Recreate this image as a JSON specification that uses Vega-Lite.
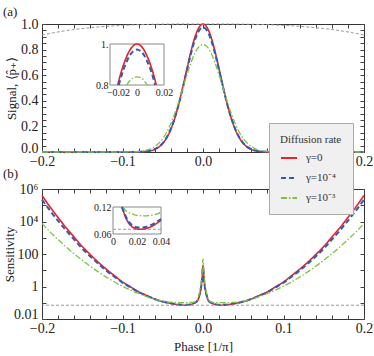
{
  "$schema": "https://vega.github.io/schema/vega-lite/v6.json",
  "padding": {"left": 2, "top": 5, "right": 1, "bottom": 2},
  "background": "white",
  "config": {
    "font": "Liberation Serif",
    "view": {"stroke": "#333", "strokeWidth": 1},
    "axis": {
      "labelFont": "Liberation Serif", "titleFont": "Liberation Serif",
      "labelFontSize": 14, "titleFontSize": 13, "titleFontWeight": "normal",
      "labelColor": "#222", "titleColor": "#222", "tickColor": "#444",
      "domain": false, "grid": false, "tickSize": -4, "labelPadding": 6,
      "labelFlush": false, "labelOverlap": false
    }
  },
  "resolve": {"legend": {"color": "independent", "strokeDash": "independent", "strokeWidth": "independent"}},
  "datasets": {
    "sig": [
      {"p": -0.2, "γ=0": 0, "γ=10⁻⁴": 0, "γ=10⁻³": 0, "ref": 0.914},
      {"p": -0.18, "γ=0": 0, "γ=10⁻⁴": 0, "γ=10⁻³": 0, "ref": 0.938},
      {"p": -0.16, "γ=0": 0, "γ=10⁻⁴": 0, "γ=10⁻³": 0, "ref": 0.957},
      {"p": -0.14, "γ=0": 0, "γ=10⁻⁴": 0, "γ=10⁻³": 0, "ref": 0.971},
      {"p": -0.12, "γ=0": 0, "γ=10⁻⁴": 0, "γ=10⁻³": 0, "ref": 0.982},
      {"p": -0.1, "γ=0": 0, "γ=10⁻⁴": 0, "γ=10⁻³": 0.0002, "ref": 0.989},
      {"p": -0.09, "γ=0": 0, "γ=10⁻⁴": 0, "γ=10⁻³": 0.001, "ref": 0.992},
      {"p": -0.08, "γ=0": 0.001, "γ=10⁻⁴": 0.001, "γ=10⁻³": 0.004, "ref": 0.995},
      {"p": -0.07, "γ=0": 0.005, "γ=10⁻⁴": 0.006, "γ=10⁻³": 0.014, "ref": 0.996},
      {"p": -0.06, "γ=0": 0.02, "γ=10⁻⁴": 0.022, "γ=10⁻³": 0.042, "ref": 0.998},
      {"p": -0.055, "γ=0": 0.038, "γ=10⁻⁴": 0.04, "γ=10⁻³": 0.068, "ref": 0.998},
      {"p": -0.05, "γ=0": 0.067, "γ=10⁻⁴": 0.07, "γ=10⁻³": 0.105, "ref": 0.999},
      {"p": -0.045, "γ=0": 0.112, "γ=10⁻⁴": 0.116, "γ=10⁻³": 0.155, "ref": 0.999},
      {"p": -0.04, "γ=0": 0.177, "γ=10⁻⁴": 0.18, "γ=10⁻³": 0.222, "ref": 0.999},
      {"p": -0.035, "γ=0": 0.266, "γ=10⁻⁴": 0.268, "γ=10⁻³": 0.303, "ref": 1},
      {"p": -0.03, "γ=0": 0.378, "γ=10⁻⁴": 0.376, "γ=10⁻³": 0.397, "ref": 1},
      {"p": -0.025, "γ=0": 0.509, "γ=10⁻⁴": 0.502, "γ=10⁻³": 0.499, "ref": 1},
      {"p": -0.02, "γ=0": 0.649, "γ=10⁻⁴": 0.637, "γ=10⁻³": 0.602, "ref": 1},
      {"p": -0.015, "γ=0": 0.784, "γ=10⁻⁴": 0.767, "γ=10⁻³": 0.696, "ref": 1},
      {"p": -0.01, "γ=0": 0.898, "γ=10⁻⁴": 0.876, "γ=10⁻³": 0.773, "ref": 1},
      {"p": -0.005, "γ=0": 0.973, "γ=10⁻⁴": 0.948, "γ=10⁻³": 0.823, "ref": 1},
      {"p": 0, "γ=0": 1, "γ=10⁻⁴": 0.973, "γ=10⁻³": 0.84, "ref": 1},
      {"p": 0.005, "γ=0": 0.973, "γ=10⁻⁴": 0.948, "γ=10⁻³": 0.823, "ref": 1},
      {"p": 0.01, "γ=0": 0.898, "γ=10⁻⁴": 0.876, "γ=10⁻³": 0.773, "ref": 1},
      {"p": 0.015, "γ=0": 0.784, "γ=10⁻⁴": 0.767, "γ=10⁻³": 0.696, "ref": 1},
      {"p": 0.02, "γ=0": 0.649, "γ=10⁻⁴": 0.637, "γ=10⁻³": 0.602, "ref": 1},
      {"p": 0.025, "γ=0": 0.509, "γ=10⁻⁴": 0.502, "γ=10⁻³": 0.499, "ref": 1},
      {"p": 0.03, "γ=0": 0.378, "γ=10⁻⁴": 0.376, "γ=10⁻³": 0.397, "ref": 1},
      {"p": 0.035, "γ=0": 0.266, "γ=10⁻⁴": 0.268, "γ=10⁻³": 0.303, "ref": 1},
      {"p": 0.04, "γ=0": 0.177, "γ=10⁻⁴": 0.18, "γ=10⁻³": 0.222, "ref": 0.999},
      {"p": 0.045, "γ=0": 0.112, "γ=10⁻⁴": 0.116, "γ=10⁻³": 0.155, "ref": 0.999},
      {"p": 0.05, "γ=0": 0.067, "γ=10⁻⁴": 0.07, "γ=10⁻³": 0.105, "ref": 0.999},
      {"p": 0.055, "γ=0": 0.038, "γ=10⁻⁴": 0.04, "γ=10⁻³": 0.068, "ref": 0.998},
      {"p": 0.06, "γ=0": 0.02, "γ=10⁻⁴": 0.022, "γ=10⁻³": 0.042, "ref": 0.998},
      {"p": 0.07, "γ=0": 0.005, "γ=10⁻⁴": 0.006, "γ=10⁻³": 0.014, "ref": 0.996},
      {"p": 0.08, "γ=0": 0.001, "γ=10⁻⁴": 0.001, "γ=10⁻³": 0.004, "ref": 0.995},
      {"p": 0.09, "γ=0": 0, "γ=10⁻⁴": 0, "γ=10⁻³": 0.001, "ref": 0.992},
      {"p": 0.1, "γ=0": 0, "γ=10⁻⁴": 0, "γ=10⁻³": 0.0002, "ref": 0.989},
      {"p": 0.12, "γ=0": 0, "γ=10⁻⁴": 0, "γ=10⁻³": 0, "ref": 0.982},
      {"p": 0.14, "γ=0": 0, "γ=10⁻⁴": 0, "γ=10⁻³": 0, "ref": 0.971},
      {"p": 0.16, "γ=0": 0, "γ=10⁻⁴": 0, "γ=10⁻³": 0, "ref": 0.957},
      {"p": 0.18, "γ=0": 0, "γ=10⁻⁴": 0, "γ=10⁻³": 0, "ref": 0.938},
      {"p": 0.2, "γ=0": 0, "γ=10⁻⁴": 0, "γ=10⁻³": 0, "ref": 0.914}
    ],
    "sens": [
      {"p": -0.2, "γ=0": 400000, "γ=10⁻⁴": 220000, "γ=10⁻³": 7500},
      {"p": -0.19, "γ=0": 79000, "γ=10⁻⁴": 47000, "γ=10⁻³": 2300},
      {"p": -0.18, "γ=0": 17500, "γ=10⁻⁴": 11000, "γ=10⁻³": 770},
      {"p": -0.17, "γ=0": 4100, "γ=10⁻⁴": 2800, "γ=10⁻³": 272},
      {"p": -0.16, "γ=0": 1080, "γ=10⁻⁴": 760, "γ=10⁻³": 102},
      {"p": -0.15, "γ=0": 290, "γ=10⁻⁴": 215, "γ=10⁻³": 41},
      {"p": -0.14, "γ=0": 91, "γ=10⁻⁴": 71, "γ=10⁻³": 17.5},
      {"p": -0.13, "γ=0": 31, "γ=10⁻⁴": 25, "γ=10⁻³": 7.9},
      {"p": -0.12, "γ=0": 11.5, "γ=10⁻⁴": 9.5, "γ=10⁻³": 3.8},
      {"p": -0.11, "γ=0": 4.6, "γ=10⁻⁴": 4.0, "γ=10⁻³": 1.9},
      {"p": -0.1, "γ=0": 1.9, "γ=10⁻⁴": 1.7, "γ=10⁻³": 1.04},
      {"p": -0.09, "γ=0": 0.95, "γ=10⁻⁴": 0.88, "γ=10⁻³": 0.6},
      {"p": -0.08, "γ=0": 0.47, "γ=10⁻⁴": 0.45, "γ=10⁻³": 0.37},
      {"p": -0.07, "γ=0": 0.28, "γ=10⁻⁴": 0.27, "γ=10⁻³": 0.24},
      {"p": -0.06, "γ=0": 0.17, "γ=10⁻⁴": 0.17, "γ=10⁻³": 0.165},
      {"p": -0.05, "γ=0": 0.116, "γ=10⁻⁴": 0.118, "γ=10⁻³": 0.124},
      {"p": -0.045, "γ=0": 0.102, "γ=10⁻⁴": 0.105, "γ=10⁻³": 0.113},
      {"p": -0.04, "γ=0": 0.0905, "γ=10⁻⁴": 0.0935, "γ=10⁻³": 0.108},
      {"p": -0.036, "γ=0": 0.083, "γ=10⁻⁴": 0.0862, "γ=10⁻³": 0.104},
      {"p": -0.032, "γ=0": 0.0765, "γ=10⁻⁴": 0.0802, "γ=10⁻³": 0.1015},
      {"p": -0.028, "γ=0": 0.0725, "γ=10⁻⁴": 0.076, "γ=10⁻³": 0.1003},
      {"p": -0.024, "γ=0": 0.0705, "γ=10⁻⁴": 0.0742, "γ=10⁻³": 0.1005},
      {"p": -0.02, "γ=0": 0.0712, "γ=10⁻⁴": 0.0748, "γ=10⁻³": 0.1015},
      {"p": -0.016, "γ=0": 0.076, "γ=10⁻⁴": 0.0795, "γ=10⁻³": 0.104},
      {"p": -0.013, "γ=0": 0.085, "γ=10⁻⁴": 0.088, "γ=10⁻³": 0.107},
      {"p": -0.01, "γ=0": 0.1, "γ=10⁻⁴": 0.103, "γ=10⁻³": 0.114},
      {"p": -0.008, "γ=0": 0.115, "γ=10⁻⁴": 0.117, "γ=10⁻³": 0.13},
      {"p": -0.006, "γ=0": 0.16, "γ=10⁻⁴": 0.165, "γ=10⁻³": 0.2},
      {"p": -0.004, "γ=0": 0.36, "γ=10⁻⁴": 0.36, "γ=10⁻³": 0.5},
      {"p": -0.003, "γ=0": 0.6, "γ=10⁻⁴": 0.58, "γ=10⁻³": 1.0},
      {"p": -0.002, "γ=0": 1.3, "γ=10⁻⁴": 1.2, "γ=10⁻³": 2.5},
      {"p": -0.001, "γ=0": 4, "γ=10⁻⁴": 3.5, "γ=10⁻³": 10},
      {"p": 0, "γ=0": 20, "γ=10⁻⁴": 15, "γ=10⁻³": 50},
      {"p": 0.001, "γ=0": 4, "γ=10⁻⁴": 3.5, "γ=10⁻³": 10},
      {"p": 0.002, "γ=0": 1.3, "γ=10⁻⁴": 1.2, "γ=10⁻³": 2.5},
      {"p": 0.003, "γ=0": 0.6, "γ=10⁻⁴": 0.58, "γ=10⁻³": 1.0},
      {"p": 0.004, "γ=0": 0.36, "γ=10⁻⁴": 0.36, "γ=10⁻³": 0.5},
      {"p": 0.006, "γ=0": 0.16, "γ=10⁻⁴": 0.165, "γ=10⁻³": 0.2},
      {"p": 0.008, "γ=0": 0.115, "γ=10⁻⁴": 0.117, "γ=10⁻³": 0.13},
      {"p": 0.01, "γ=0": 0.1, "γ=10⁻⁴": 0.103, "γ=10⁻³": 0.114},
      {"p": 0.013, "γ=0": 0.085, "γ=10⁻⁴": 0.088, "γ=10⁻³": 0.107},
      {"p": 0.016, "γ=0": 0.076, "γ=10⁻⁴": 0.0795, "γ=10⁻³": 0.104},
      {"p": 0.02, "γ=0": 0.0712, "γ=10⁻⁴": 0.0748, "γ=10⁻³": 0.1015},
      {"p": 0.024, "γ=0": 0.0705, "γ=10⁻⁴": 0.0742, "γ=10⁻³": 0.1005},
      {"p": 0.028, "γ=0": 0.0725, "γ=10⁻⁴": 0.076, "γ=10⁻³": 0.1003},
      {"p": 0.032, "γ=0": 0.0765, "γ=10⁻⁴": 0.0802, "γ=10⁻³": 0.1015},
      {"p": 0.036, "γ=0": 0.083, "γ=10⁻⁴": 0.0862, "γ=10⁻³": 0.104},
      {"p": 0.04, "γ=0": 0.0905, "γ=10⁻⁴": 0.0935, "γ=10⁻³": 0.108},
      {"p": 0.045, "γ=0": 0.102, "γ=10⁻⁴": 0.105, "γ=10⁻³": 0.113},
      {"p": 0.05, "γ=0": 0.116, "γ=10⁻⁴": 0.118, "γ=10⁻³": 0.124},
      {"p": 0.06, "γ=0": 0.17, "γ=10⁻⁴": 0.17, "γ=10⁻³": 0.165},
      {"p": 0.07, "γ=0": 0.28, "γ=10⁻⁴": 0.27, "γ=10⁻³": 0.24},
      {"p": 0.08, "γ=0": 0.47, "γ=10⁻⁴": 0.45, "γ=10⁻³": 0.37},
      {"p": 0.09, "γ=0": 0.95, "γ=10⁻⁴": 0.88, "γ=10⁻³": 0.6},
      {"p": 0.1, "γ=0": 1.9, "γ=10⁻⁴": 1.7, "γ=10⁻³": 1.04},
      {"p": 0.11, "γ=0": 4.6, "γ=10⁻⁴": 4.0, "γ=10⁻³": 1.9},
      {"p": 0.12, "γ=0": 11.5, "γ=10⁻⁴": 9.5, "γ=10⁻³": 3.8},
      {"p": 0.13, "γ=0": 31, "γ=10⁻⁴": 25, "γ=10⁻³": 7.9},
      {"p": 0.14, "γ=0": 91, "γ=10⁻⁴": 71, "γ=10⁻³": 17.5},
      {"p": 0.15, "γ=0": 290, "γ=10⁻⁴": 215, "γ=10⁻³": 41},
      {"p": 0.16, "γ=0": 1080, "γ=10⁻⁴": 760, "γ=10⁻³": 102},
      {"p": 0.17, "γ=0": 4100, "γ=10⁻⁴": 2800, "γ=10⁻³": 272},
      {"p": 0.18, "γ=0": 17500, "γ=10⁻⁴": 11000, "γ=10⁻³": 770},
      {"p": 0.19, "γ=0": 79000, "γ=10⁻⁴": 47000, "γ=10⁻³": 2300},
      {"p": 0.2, "γ=0": 400000, "γ=10⁻⁴": 220000, "γ=10⁻³": 7500}
    ],
    "insA": [
      {"p": -0.0143, "s": "γ=0", "v": 0.8}, {"p": -0.0125, "s": "γ=0", "v": 0.845}, {"p": -0.01, "s": "γ=0", "v": 0.898},
      {"p": -0.0075, "s": "γ=0", "v": 0.941}, {"p": -0.005, "s": "γ=0", "v": 0.973}, {"p": -0.0025, "s": "γ=0", "v": 0.993},
      {"p": 0, "s": "γ=0", "v": 1}, {"p": 0.0025, "s": "γ=0", "v": 0.993}, {"p": 0.005, "s": "γ=0", "v": 0.973},
      {"p": 0.0075, "s": "γ=0", "v": 0.941}, {"p": 0.01, "s": "γ=0", "v": 0.898}, {"p": 0.0125, "s": "γ=0", "v": 0.845},
      {"p": 0.0143, "s": "γ=0", "v": 0.8},
      {"p": -0.0135, "s": "γ=10⁻⁴", "v": 0.8}, {"p": -0.0125, "s": "γ=10⁻⁴", "v": 0.823}, {"p": -0.01, "s": "γ=10⁻⁴", "v": 0.876},
      {"p": -0.0075, "s": "γ=10⁻⁴", "v": 0.916}, {"p": -0.005, "s": "γ=10⁻⁴", "v": 0.948}, {"p": -0.0025, "s": "γ=10⁻⁴", "v": 0.966},
      {"p": 0, "s": "γ=10⁻⁴", "v": 0.973}, {"p": 0.0025, "s": "γ=10⁻⁴", "v": 0.966}, {"p": 0.005, "s": "γ=10⁻⁴", "v": 0.948},
      {"p": 0.0075, "s": "γ=10⁻⁴", "v": 0.916}, {"p": 0.01, "s": "γ=10⁻⁴", "v": 0.876}, {"p": 0.0125, "s": "γ=10⁻⁴", "v": 0.823},
      {"p": 0.0135, "s": "γ=10⁻⁴", "v": 0.8},
      {"p": -0.0077, "s": "γ=10⁻³", "v": 0.8}, {"p": -0.005, "s": "γ=10⁻³", "v": 0.823}, {"p": -0.0025, "s": "γ=10⁻³", "v": 0.836},
      {"p": 0, "s": "γ=10⁻³", "v": 0.84}, {"p": 0.0025, "s": "γ=10⁻³", "v": 0.836}, {"p": 0.005, "s": "γ=10⁻³", "v": 0.823},
      {"p": 0.0077, "s": "γ=10⁻³", "v": 0.8}
    ],
    "insB": [
      {"p": 0.0072, "s": "γ=0", "v": 0.12}, {"p": 0.008, "s": "γ=0", "v": 0.115}, {"p": 0.01, "s": "γ=0", "v": 0.1},
      {"p": 0.012, "s": "γ=0", "v": 0.089}, {"p": 0.014, "s": "γ=0", "v": 0.081}, {"p": 0.016, "s": "γ=0", "v": 0.076},
      {"p": 0.018, "s": "γ=0", "v": 0.0728}, {"p": 0.02, "s": "γ=0", "v": 0.0712}, {"p": 0.022, "s": "γ=0", "v": 0.0705},
      {"p": 0.024, "s": "γ=0", "v": 0.0705}, {"p": 0.026, "s": "γ=0", "v": 0.0712}, {"p": 0.028, "s": "γ=0", "v": 0.0725},
      {"p": 0.03, "s": "γ=0", "v": 0.0743}, {"p": 0.032, "s": "γ=0", "v": 0.0765}, {"p": 0.034, "s": "γ=0", "v": 0.0795},
      {"p": 0.036, "s": "γ=0", "v": 0.083}, {"p": 0.038, "s": "γ=0", "v": 0.0866}, {"p": 0.04, "s": "γ=0", "v": 0.0905},
      {"p": 0.0075, "s": "γ=10⁻⁴", "v": 0.12}, {"p": 0.008, "s": "γ=10⁻⁴", "v": 0.117}, {"p": 0.01, "s": "γ=10⁻⁴", "v": 0.103},
      {"p": 0.012, "s": "γ=10⁻⁴", "v": 0.092}, {"p": 0.014, "s": "γ=10⁻⁴", "v": 0.0845}, {"p": 0.016, "s": "γ=10⁻⁴", "v": 0.0795},
      {"p": 0.018, "s": "γ=10⁻⁴", "v": 0.0765}, {"p": 0.02, "s": "γ=10⁻⁴", "v": 0.0748}, {"p": 0.022, "s": "γ=10⁻⁴", "v": 0.0742},
      {"p": 0.024, "s": "γ=10⁻⁴", "v": 0.0742}, {"p": 0.026, "s": "γ=10⁻⁴", "v": 0.0748}, {"p": 0.028, "s": "γ=10⁻⁴", "v": 0.076},
      {"p": 0.03, "s": "γ=10⁻⁴", "v": 0.0778}, {"p": 0.032, "s": "γ=10⁻⁴", "v": 0.0802}, {"p": 0.034, "s": "γ=10⁻⁴", "v": 0.083},
      {"p": 0.036, "s": "γ=10⁻⁴", "v": 0.0862}, {"p": 0.038, "s": "γ=10⁻⁴", "v": 0.0897}, {"p": 0.04, "s": "γ=10⁻⁴", "v": 0.0935},
      {"p": 0.0085, "s": "γ=10⁻³", "v": 0.12}, {"p": 0.01, "s": "γ=10⁻³", "v": 0.114}, {"p": 0.012, "s": "γ=10⁻³", "v": 0.109},
      {"p": 0.014, "s": "γ=10⁻³", "v": 0.106}, {"p": 0.016, "s": "γ=10⁻³", "v": 0.104}, {"p": 0.018, "s": "γ=10⁻³", "v": 0.1025},
      {"p": 0.02, "s": "γ=10⁻³", "v": 0.1015}, {"p": 0.022, "s": "γ=10⁻³", "v": 0.101}, {"p": 0.024, "s": "γ=10⁻³", "v": 0.1005},
      {"p": 0.026, "s": "γ=10⁻³", "v": 0.1003}, {"p": 0.028, "s": "γ=10⁻³", "v": 0.1003}, {"p": 0.03, "s": "γ=10⁻³", "v": 0.1008},
      {"p": 0.032, "s": "γ=10⁻³", "v": 0.1015}, {"p": 0.034, "s": "γ=10⁻³", "v": 0.1025}, {"p": 0.036, "s": "γ=10⁻³", "v": 0.104},
      {"p": 0.038, "s": "γ=10⁻³", "v": 0.1058}, {"p": 0.04, "s": "γ=10⁻³", "v": 0.108}
    ]
  },
  "bounds": "flush",
  "spacing": 37,
  "vconcat": [
    {
      "width": 322, "height": 128,
      "title": {"text": "(a)", "anchor": "start", "frame": "group", "dx": -39, "offset": -2, "fontSize": 13, "fontWeight": "normal", "font": "Liberation Serif", "color": "#222"},
      "resolve": {"scale": {"x": "independent", "y": "independent"}},
      "layer": [
        {
          "data": {"name": "sig"},
          "transform": [{"fold": ["γ=0", "γ=10⁻⁴", "γ=10⁻³"], "as": ["s", "v"]}],
          "mark": {"type": "line", "interpolate": "monotone"},
          "encoding": {
            "x": {"field": "p", "type": "quantitative", "scale": {"domain": [-0.2, 0.2], "nice": false, "zero": false},
              "axis": {"orient": "bottom", "title": null, "values": [-0.2,-0.18,-0.16,-0.14,-0.12,-0.1,-0.08,-0.06,-0.04,-0.02,0,0.02,0.04,0.06,0.08,0.1,0.12,0.14,0.16,0.18,0.2],
                "labelExpr": "abs(datum.value*10 - round(datum.value*10)) < 0.001 ? format(datum.value, '.1f') : ''"}},
            "y": {"field": "v", "type": "quantitative", "scale": {"domain": [0, 1], "nice": false},
              "axis": {"orient": "left", "title": "Signal, ⟨p̂₊⟩", "titleX": -24, "titleBaseline": "bottom", "labelPadding": 8,
                "labelOffset": {"condition": {"test": "datum.value < 0.01", "value": -4}, "value": 0},
                "values": [0,0.05,0.1,0.15,0.2,0.25,0.3,0.35,0.4,0.45,0.5,0.55,0.6,0.65,0.7,0.75,0.8,0.85,0.9,0.95,1],
                "labelExpr": "abs(datum.value*5 - round(datum.value*5)) < 0.001 ? format(datum.value, '.1f') : ''"}},
            "color": {"field": "s", "type": "nominal", "legend": null, "scale": {"domain": ["γ=0", "γ=10⁻⁴", "γ=10⁻³"], "range": ["#e8242b", "#2c5cb8", "#7cc242"]}},
            "strokeDash": {"field": "s", "type": "nominal", "legend": null, "scale": {"domain": ["γ=0", "γ=10⁻⁴", "γ=10⁻³"], "range": [[1, 0], [5, 3], [6, 2, 1.5, 2]]}},
            "strokeWidth": {"field": "s", "type": "ordinal", "legend": null, "scale": {"domain": ["γ=10⁻³", "γ=0", "γ=10⁻⁴"], "range": [1.3, 2, 1.8]}}
          }
        },
        {
          "data": {"name": "sig"},
          "mark": {"type": "line", "interpolate": "monotone", "color": "#999999", "strokeDash": [3, 2], "strokeWidth": 1},
          "encoding": {
            "x": {"field": "p", "type": "quantitative", "scale": {"domain": [-0.2, 0.2], "nice": false, "zero": false},
              "axis": {"orient": "top", "title": null, "labels": false, "values": [-0.2,-0.18,-0.16,-0.14,-0.12,-0.1,-0.08,-0.06,-0.04,-0.02,0,0.02,0.04,0.06,0.08,0.1,0.12,0.14,0.16,0.18,0.2]}},
            "y": {"field": "ref", "type": "quantitative", "scale": {"domain": [0, 1], "nice": false},
              "axis": {"orient": "right", "title": null, "labels": false, "values": [0,0.05,0.1,0.15,0.2,0.25,0.3,0.35,0.4,0.45,0.5,0.55,0.6,0.65,0.7,0.75,0.8,0.85,0.9,0.95,1]}}
          }
        },
        {
          "layer": [
            {
              "data": {"values": [{}]},
              "mark": {"type": "rect", "fill": "white", "stroke": "#888888", "strokeWidth": 1},
              "encoding": {
                "x": {"datum": -0.02, "type": "quantitative", "scale": {"domain": [-0.02, 0.02], "range": [68, 122], "nice": false, "zero": false},
                  "axis": {"orient": "bottom", "offset": -67, "title": null, "ticks": false, "labelFontSize": 10, "labelPadding": 2,
                    "values": [-0.02, 0, 0.02], "labelExpr": "datum.value == 0 ? '0' : format(datum.value, '.2f')",
                    "labelOffset": {"condition": {"test": "datum.value < -0.01", "value": 8}, "value": 0}}},
                "x2": {"datum": 0.02},
                "y": {"datum": 0.8, "type": "quantitative", "scale": {"domain": [0.8, 1], "range": [61, 20], "nice": false, "zero": false},
                  "axis": {"orient": "left", "offset": -68, "title": null, "ticks": false, "labelFontSize": 10, "labelPadding": 2,
                    "values": [0.8, 1], "labelExpr": "datum.value > 0.9 ? '1.' : '0.8'"}},
                "y2": {"datum": 1}
              }
            },
            {
              "data": {"name": "insA"},
              "mark": {"type": "line", "interpolate": "monotone"},
              "encoding": {
                "x": {"field": "p", "type": "quantitative"},
                "y": {"field": "v", "type": "quantitative"},
                "color": {"field": "s", "type": "nominal", "legend": null},
                "strokeDash": {"field": "s", "type": "nominal", "legend": null},
                "strokeWidth": {"field": "s", "type": "ordinal", "legend": null}
              }
            }
          ]
        }
      ]
    },
    {
      "width": 322, "height": 130,
      "title": {"text": "(b)", "anchor": "start", "frame": "group", "dx": -39, "offset": -58, "fontSize": 13, "fontWeight": "normal", "font": "Liberation Serif", "color": "#222"},
      "resolve": {"scale": {"x": "independent", "y": "independent"}},
      "layer": [
        {
          "data": {"name": "sens"},
          "transform": [{"fold": ["γ=0", "γ=10⁻⁴", "γ=10⁻³"], "as": ["s", "v"]}],
          "mark": {"type": "line", "interpolate": "monotone"},
          "encoding": {
            "x": {"field": "p", "type": "quantitative", "scale": {"domain": [-0.2, 0.2], "nice": false, "zero": false},
              "axis": {"orient": "bottom", "title": "Phase [1/π]", "titlePadding": 5, "values": [-0.2,-0.18,-0.16,-0.14,-0.12,-0.1,-0.08,-0.06,-0.04,-0.02,0,0.02,0.04,0.06,0.08,0.1,0.12,0.14,0.16,0.18,0.2],
                "labelExpr": "abs(datum.value*10 - round(datum.value*10)) < 0.001 ? format(datum.value, '.1f') : ''"}},
            "y": {"field": "v", "type": "quantitative", "scale": {"type": "log", "domain": [0.01, 1000000], "nice": false},
              "axis": {"orient": "left", "title": "Sensitivity", "titleX": -26, "titleBaseline": "bottom", "labelPadding": 8,
                "labelOffset": {"condition": {"test": "datum.value < 0.02", "value": -5}, "value": 0},
                "values": [0.01, 0.1, 1, 10, 100, 1000, 10000, 100000, 1000000],
                "labelExpr": "datum.value < 0.02 ? '0.01' : (datum.value > 0.5 && datum.value < 2) ? '1' : (datum.value > 50 && datum.value < 200) ? '100' : (datum.value > 5000 && datum.value < 20000) ? '10⁴' : datum.value > 500000 ? '10⁶' : ''"}},
            "color": {"field": "s", "type": "nominal", "title": "Diffusion rate",
              "scale": {"domain": ["γ=0", "γ=10⁻⁴", "γ=10⁻³"], "range": ["#e8242b", "#2c5cb8", "#7cc242"]},
              "legend": {"orient": "none", "legendX": 227, "legendY": -66,
                "fillColor": "#f0f0f0", "strokeColor": "#aaaaaa", "padding": 11,
                "titleFont": "Liberation Serif", "titleFontWeight": "normal", "titleFontSize": 11, "titleColor": "#333", "titlePadding": 4,
                "labelFont": "Liberation Serif", "labelFontSize": 11, "labelColor": "#333", "labelOffset": 8,
                "symbolType": "stroke", "symbolSize": 256, "symbolStrokeWidth": 2, "rowPadding": 6}},
            "strokeDash": {"field": "s", "type": "nominal", "title": "Diffusion rate", "scale": {"domain": ["γ=0", "γ=10⁻⁴", "γ=10⁻³"], "range": [[1, 0], [5, 3], [6, 2, 1.5, 2]]},
              "legend": {"orient": "none", "legendX": 227, "legendY": -66,
                "fillColor": "#f0f0f0", "strokeColor": "#aaaaaa", "padding": 11,
                "titleFont": "Liberation Serif", "titleFontWeight": "normal", "titleFontSize": 11, "titleColor": "#333", "titlePadding": 4,
                "labelFont": "Liberation Serif", "labelFontSize": 11, "labelColor": "#333", "labelOffset": 8,
                "symbolType": "stroke", "symbolSize": 256, "symbolStrokeWidth": 2, "rowPadding": 6}},
            "strokeWidth": {"field": "s", "type": "ordinal", "legend": null, "scale": {"domain": ["γ=10⁻³", "γ=0", "γ=10⁻⁴"], "range": [1.3, 2, 1.8]}}
          }
        },
        {
          "data": {"values": [{}]},
          "mark": {"type": "rule", "color": "#999999", "strokeDash": [3, 2], "strokeWidth": 1},
          "encoding": {
            "y": {"datum": 0.0705, "type": "quantitative", "scale": {"type": "log", "domain": [0.01, 1000000], "nice": false},
              "axis": {"orient": "right", "title": null, "labels": false, "values": [0.01, 0.1, 1, 10, 100, 1000, 10000, 100000, 1000000]}}
          }
        },
        {
          "data": {"values": [{}]},
          "mark": {"type": "rule", "opacity": 0},
          "encoding": {
            "x": {"datum": 0, "type": "quantitative", "scale": {"domain": [-0.2, 0.2], "nice": false, "zero": false},
              "axis": {"orient": "top", "title": null, "labels": false, "values": [-0.2,-0.18,-0.16,-0.14,-0.12,-0.1,-0.08,-0.06,-0.04,-0.02,0,0.02,0.04,0.06,0.08,0.1,0.12,0.14,0.16,0.18,0.2]}}
          }
        },
        {
          "layer": [
            {
              "data": {"values": [{}]},
              "mark": {"type": "rect", "fill": "white", "stroke": "#888888", "strokeWidth": 1},
              "encoding": {
                "x": {"datum": 0, "type": "quantitative", "scale": {"domain": [0, 0.04], "range": [71, 119], "nice": false, "zero": false},
                  "axis": {"orient": "bottom", "offset": -85, "title": null, "ticks": false, "labelFontSize": 10, "labelPadding": 2,
                    "values": [0, 0.02, 0.04], "labelExpr": "datum.value == 0 ? '0' : format(datum.value, '.2f')"}},
                "x2": {"datum": 0.04},
                "y": {"datum": 0.06, "type": "quantitative", "scale": {"domain": [0.06, 0.12], "range": [45, 18], "nice": false, "zero": false},
                  "axis": {"orient": "left", "offset": -71, "title": null, "ticks": false, "labelFontSize": 10, "labelPadding": 2,
                    "values": [0.06, 0.12], "format": ".2f"}},
                "y2": {"datum": 0.12}
              }
            },
            {
              "data": {"values": [{}]},
              "mark": {"type": "rule", "color": "#999999", "strokeDash": [3, 2], "strokeWidth": 1},
              "encoding": {
                "x": {"datum": 0, "type": "quantitative"},
                "x2": {"datum": 0.04},
                "y": {"datum": 0.0705, "type": "quantitative"}
              }
            },
            {
              "data": {"name": "insB"},
              "mark": {"type": "line", "interpolate": "monotone"},
              "encoding": {
                "x": {"field": "p", "type": "quantitative"},
                "y": {"field": "v", "type": "quantitative"},
                "color": {"field": "s", "type": "nominal"},
                "strokeDash": {"field": "s", "type": "nominal"},
                "strokeWidth": {"field": "s", "type": "ordinal"}
              }
            }
          ]
        }
      ]
    }
  ]
}
